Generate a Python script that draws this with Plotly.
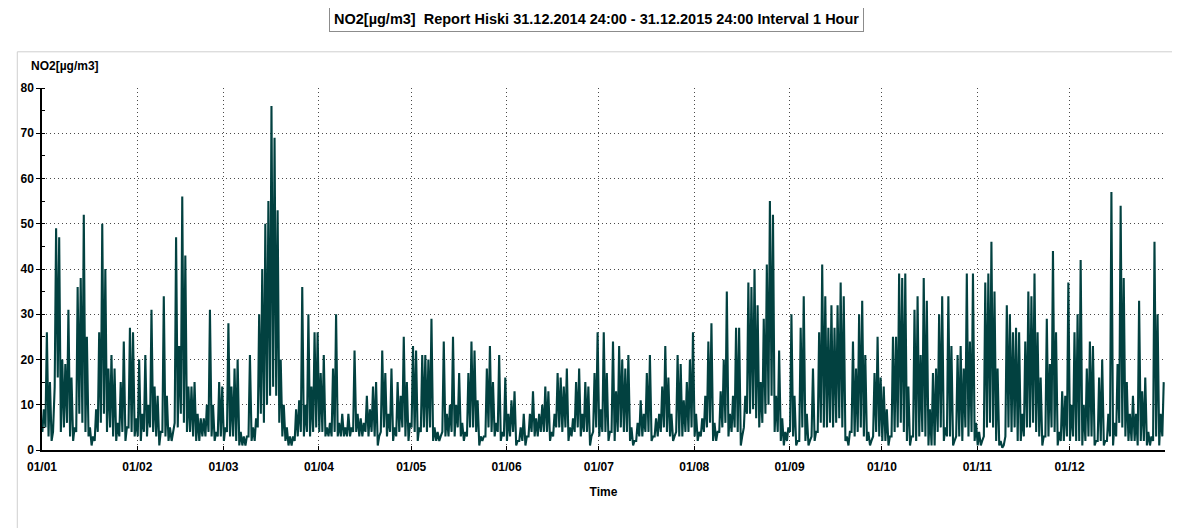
import pandas as pd
import plotly.graph_objects as go

# Daily peak and daily low NO2 values (µg/m3)
jan_peak = [9, 26, 15, 4, 49, 47, 20, 19, 31, 16, 5, 36, 38, 52, 25, 5, 3, 9, 26, 50, 40, 18, 21, 18, 6, 15, 24, 5, 27, 26, 7]
jan_low = [4, 5, 3, 2, 14, 16, 4, 5, 6, 3, 2, 4, 8, 6, 4, 3, 1, 2, 4, 6, 8, 4, 5, 3, 2, 3, 4, 2, 5, 4, 3]
feb_peak = [20, 8, 21, 10, 31, 14, 12, 4, 34, 12, 5, 4, 47, 23, 56, 43, 14, 14, 15, 8, 7, 7, 10, 31, 10, 4, 15, 14]
feb_low = [3, 2, 4, 3, 5, 4, 3, 1, 4, 3, 2, 2, 6, 5, 8, 6, 4, 4, 3, 2, 2, 3, 3, 4, 3, 2, 3, 3]
mar_peak = [5, 28, 14, 18, 20, 4, 3, 3, 21, 5, 7, 30, 40, 50, 55, 76, 69, 53, 20, 10, 5, 3, 3, 9, 11, 36, 10, 30, 14, 26, 26]
mar_low = [2, 4, 3, 3, 2, 1, 1, 1, 3, 2, 2, 5, 8, 6, 10, 12, 14, 12, 6, 3, 2, 1, 1, 2, 3, 4, 3, 4, 3, 4, 5]
apr_peak = [17, 21, 5, 6, 18, 30, 6, 8, 5, 8, 5, 22, 8, 7, 6, 12, 9, 14, 15, 3, 22, 17, 8, 18, 5, 15, 12, 25, 15, 6]
apr_low = [4, 4, 3, 3, 3, 4, 3, 3, 3, 3, 3, 4, 4, 3, 3, 4, 3, 4, 3, 1, 4, 5, 3, 4, 2, 3, 4, 5, 3, 2]
may_peak = [23, 22, 5, 21, 21, 20, 29, 5, 4, 3, 24, 8, 10, 25, 10, 17, 6, 4, 17, 24, 22, 11, 3, 3, 18, 23, 15, 6, 21, 4, 16]
may_low = [5, 4, 2, 4, 5, 4, 5, 2, 2, 2, 4, 3, 3, 4, 3, 5, 3, 2, 3, 5, 5, 4, 1, 2, 3, 5, 4, 3, 4, 2, 3]
jun_peak = [8, 11, 13, 2, 5, 8, 3, 8, 13, 7, 8, 10, 14, 13, 4, 8, 17, 16, 14, 18, 5, 7, 15, 18, 8, 15, 14, 3, 17, 26]
jun_low = [2, 3, 4, 1, 2, 2, 1, 3, 4, 3, 3, 4, 4, 4, 2, 3, 5, 5, 4, 5, 2, 3, 4, 5, 3, 4, 4, 1, 4, 5]
jul_peak = [9, 26, 17, 4, 24, 13, 23, 20, 18, 21, 5, 2, 6, 11, 8, 17, 21, 3, 7, 8, 14, 23, 16, 8, 3, 21, 19, 11, 15, 20, 26]
jul_low = [3, 4, 4, 2, 4, 2, 4, 5, 4, 4, 2, 1, 2, 3, 3, 4, 4, 2, 3, 3, 4, 5, 4, 3, 2, 4, 3, 3, 4, 4, 5]
aug_peak = [8, 4, 7, 12, 24, 28, 6, 4, 13, 20, 35, 8, 12, 27, 27, 3, 12, 37, 36, 40, 32, 15, 29, 41, 55, 52, 12, 22, 7, 4, 5]
aug_low = [3, 2, 3, 4, 5, 6, 2, 2, 4, 5, 6, 3, 4, 5, 4, 1, 5, 8, 8, 9, 7, 5, 6, 8, 10, 12, 4, 4, 2, 1, 2]
sep_peak = [30, 12, 2, 27, 34, 8, 2, 18, 4, 26, 41, 34, 27, 32, 27, 32, 37, 34, 3, 4, 24, 18, 30, 33, 21, 4, 2, 17, 25, 16]
sep_low = [4, 3, 1, 2, 5, 2, 1, 3, 2, 4, 6, 5, 5, 6, 5, 6, 7, 5, 2, 1, 4, 3, 4, 5, 3, 2, 1, 3, 4, 3]
oct_peak = [14, 9, 3, 25, 25, 39, 38, 39, 14, 3, 31, 34, 21, 38, 33, 9, 17, 18, 30, 34, 5, 34, 23, 2, 21, 23, 18, 39, 24, 39, 6]
oct_low = [2, 2, 1, 3, 4, 5, 6, 4, 2, 1, 3, 2, 3, 4, 3, 1, 1, 1, 4, 5, 2, 3, 3, 1, 3, 3, 2, 5, 3, 4, 2]
nov_peak = [4, 2, 37, 39, 46, 35, 18, 2, 1, 32, 30, 26, 27, 26, 8, 24, 35, 34, 39, 26, 16, 3, 29, 19, 44, 26, 4, 13, 12, 37]
nov_low = [1, 1, 3, 5, 6, 5, 2, 1, 0.5, 3, 5, 4, 5, 2, 2, 3, 5, 5, 6, 4, 3, 1, 3, 3, 5, 4, 1, 2, 2, 3]
dec_peak = [10, 26, 30, 42, 10, 18, 24, 23, 2, 16, 20, 2, 8, 57, 6, 19, 54, 38, 15, 8, 12, 8, 33, 13, 16, 4, 3, 46, 30, 8, 15]
dec_low = [2, 3, 2, 2, 1, 2, 3, 3, 1, 2, 2, 1, 2, 3, 1, 3, 6, 5, 3, 2, 2, 2, 1, 2, 2, 1, 1, 2, 3, 1, 3]

month_starts = ["2015-01-01", "2015-02-01", "2015-03-01", "2015-04-01", "2015-05-01", "2015-06-01",
                "2015-07-01", "2015-08-01", "2015-09-01", "2015-10-01", "2015-11-01", "2015-12-01"]
tick_labels = ["01/01", "01/02", "01/03", "01/04", "01/05", "01/06",
               "01/07", "01/08", "01/09", "01/10", "01/11", "01/12"]

peaks = (jan_peak + feb_peak + mar_peak + apr_peak + may_peak + jun_peak +
         jul_peak + aug_peak + sep_peak + oct_peak + nov_peak + dec_peak)
lows = (jan_low + feb_low + mar_low + apr_low + may_low + jun_low +
        jul_low + aug_low + sep_low + oct_low + nov_low + dec_low)

days = pd.date_range("2015-01-01", periods=len(peaks), freq="D")
xs, ys = [], []
for d, lo, hi in zip(days, lows, peaks):
    xs += [d + pd.Timedelta(hours=3), d + pd.Timedelta(hours=14)]
    ys += [lo, hi]

LINE = "#024140"
FONT = "Liberation Sans, Arial, sans-serif"
GRID = "#4a4a4a"

fig = go.Figure()
fig.add_trace(go.Scatter(x=xs, y=ys, mode="lines",
                         line=dict(color=LINE, width=2.1), hoverinfo="skip"))

# page body has an 8px margin, so the figure is sized/offset to compensate
fig.update_layout(
    width=1172, height=520,
    margin=dict(l=27, r=15, t=80, b=78),
    paper_bgcolor="white", plot_bgcolor="white",
    showlegend=False,
    font=dict(family=FONT, size=12, color="black"),
)
fig.update_xaxes(
    type="date", range=["2015-01-01", "2016-01-01"],
    tickvals=month_starts, ticktext=tick_labels,
    tickfont=dict(family=FONT, size=12, color="black", weight="bold"),
    showgrid=True, gridcolor=GRID, griddash="1px,3px", gridwidth=1,
    showline=True, linecolor="black", linewidth=1.5,
    ticks="inside", ticklen=4, tickcolor="black",
    ticklabelstandoff=5,
    title=dict(text="Time", font=dict(family=FONT, size=12, color="black", weight="bold"), standoff=14),
    zeroline=False,
)
fig.update_yaxes(
    range=[0, 80], dtick=10, tick0=0,
    tickfont=dict(family=FONT, size=12, color="black", weight="bold"),
    showgrid=True, gridcolor=GRID, griddash="1px,3px", gridwidth=1,
    showline=True, linecolor="black", linewidth=1.5,
    ticks="outside", ticklen=4, tickcolor="black",
    minor=dict(dtick=5, ticks="inside", ticklen=3, tickcolor="black", showgrid=False),
    zeroline=False,
)

# outer panel frame
fig.add_shape(type="rect", xref="paper", yref="paper",
              x0=-0.022, x1=1.0097, y0=-0.26, y1=1.1,
              line=dict(color="#cfcfcf", width=1), layer="below")
fig.add_shape(type="line", xref="paper", yref="paper",
              x0=1.0097, x1=1.0097, y0=-0.26, y1=1.1,
              line=dict(color="#b8b8b8", width=3), layer="below")

fig.add_annotation(
    text="NO2[µg/m3]&nbsp; Report Hiski 31.12.2014 24:00 - 31.12.2015 24:00 Interval 1 Hour",
    xref="paper", yref="paper", x=0.494, y=1.19, xanchor="center", yanchor="middle",
    showarrow=False, font=dict(family=FONT, size=14.5, color="black", weight="bold"),
    bgcolor="white", bordercolor="#8c8c8c", borderwidth=1, borderpad=4,
)
fig.add_annotation(
    text="NO2[µg/m3]", xref="paper", yref="paper", x=-0.0115, y=1.061,
    xanchor="left", yanchor="middle", showarrow=False,
    font=dict(family=FONT, size=12, color="black", weight="bold"),
)

fig.write_html("out.html")
